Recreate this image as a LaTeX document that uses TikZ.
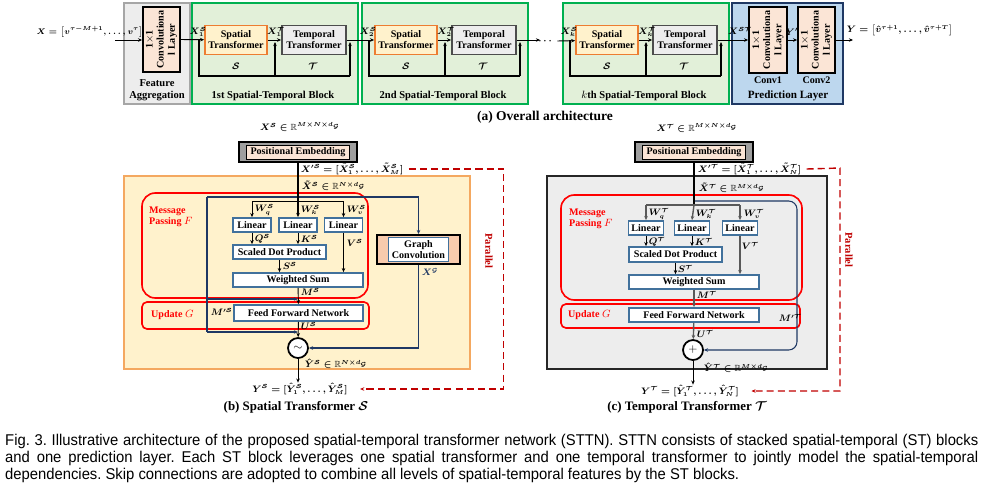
\documentclass[tikz,border=0pt]{standalone}
\usepackage{amsmath}
\usepackage{amssymb}
\usepackage{fontspec}
\setmainfont{Liberation Serif}
\newfontfamily\capfont[FakeStretch=0.95]{Liberation Sans}
\usetikzlibrary{arrows.meta}

\definecolor{peach}{HTML}{FBE5D6}
\definecolor{peachdk}{HTML}{F8CBAD}
\definecolor{blkgreen}{HTML}{E2F0D9}
\definecolor{blkline}{HTML}{00B050}
\definecolor{predfill}{HTML}{BDD7EE}
\definecolor{navy}{HTML}{1F3864}
\definecolor{lightyel}{HTML}{FFF2CC}
\definecolor{orgline}{HTML}{ED7D31}
\definecolor{orgpale}{HTML}{F4A860}
\definecolor{steel}{HTML}{41719C}
\definecolor{parred}{HTML}{C00000}
\definecolor{greyfill}{HTML}{EDEDED}

\tikzset{
  sz/.style 2 args={minimum width=#1*0.03cm, minimum height=#2*0.03cm, inner sep=0pt},
  txt/.style={font=\fontsize{8.6}{9.4}\selectfont\bfseries, align=center},
  lb/.style={font=\fontsize{7.6}{8}\selectfont\boldmath, inner sep=0.5pt},
  arr/.style={-{Stealth[length=3.5pt,width=3pt]}},
  flow/.style={line width=0.8pt},
  skipln/.style={line width=1.3pt},
  navyln/.style={draw=navy, line width=0.9pt},
  convbox/.style={txt, draw=black, line width=1.5pt, fill=peach, rotate=90},
  spbox/.style={txt, draw=orgline, line width=1.5pt, fill=lightyel},
  tpbox/.style={txt, draw=gray!60!black, line width=1.5pt, fill=greyfill},
  linbox/.style={txt, draw=steel, line width=1.5pt, fill=white},
  pebox/.style={draw=black, line width=1.6pt, fill=gray!75},
  peinner/.style={txt, draw=black, line width=0.4pt, fill=peach},
  redbox/.style={draw=red, line width=1.4pt, rounded corners=0.4cm},
  redtxt/.style={txt, text=red, align=left},
  pardash/.style={draw=parred, line width=1.2pt, dash pattern=on 6pt off 3.5pt},
  subcap/.style={font=\fontsize{11}{12}\selectfont\bfseries},
  capline/.style={anchor=base west, inner sep=0pt, font=\capfont\fontsize{13.3}{14.5}\selectfont\frenchspacing},
}

\begin{document}
\begin{tikzpicture}[x=0.03cm, y=-0.03cm]
\useasboundingbox (0,0) rectangle (983,495);

% (a) overall architecture
\node[sz={66}{101}, draw=gray!70, line width=1.4pt, fill=greyfill] (fa) at (157,53.5) {};
\node[convbox, sz={65}{37}] (conv0) at (161.5,39.5) {1$\times$1\\Convolutiona\\l Layer};
\node[txt, font=\fontsize{9}{10.5}\selectfont\bfseries] (falab) at (157,90.5) {Feature\\Aggregation};
\node[lb, font=\fontsize{7.4}{8}\selectfont\boldmath] (xin) at (90,32) {$X=\bigl[v^{\tau-M+1},\ldots,v^{\tau}\bigr]$};
\coordinate (in0) at (115,40);
\draw[flow,arr] (in0) -- (in0 -| conv0.north);

\foreach \bx/\n/\nth in {192/1/1st, 362/2/2nd, 563/k/{$k$th}} {
  \node[sz={166}{101}, draw=blkline, line width=1.4pt, fill=blkgreen] (blk\n) at (\bx+83,53.5) {};
  \node[spbox, sz={62}{29}] (sp\n) at (\bx+44,40) {Spatial\\Transformer};
  \node[tpbox, sz={64}{29}] (tp\n) at (\bx+122,40) {Temporal\\Transformer};
  \draw[flow,arr] (sp\n) -- (tp\n);
  \draw[skipln] (\bx+7,40) -- (\bx+7,76) -- (\bx+158,76);
  \draw[skipln,arr] (\bx+158,76) -- (\bx+158,42);
  \draw[skipln,arr] (\bx+83,76) -- (\bx+83,42);
  \node[lb] at (\bx+6,32) {$X_{\n}^{\mathcal{S}}$};
  \node[lb] at (\bx+84,32) {$X_{\n}^{\mathcal{T}}$};
  \node[lb] at (\bx+44,66) {$\mathcal{S}$};
  \node[lb] at (\bx+121,66) {$\mathcal{T}$};
  \node[txt, font=\fontsize{9}{10}\selectfont\bfseries] at (\bx+81,96) {\nth{} Spatial-Temporal Block};
}

\node[sz={111}{101}, draw=navy, line width=1.4pt, fill=predfill] (pl) at (787.5,53.5) {};
\node[convbox, sz={66}{38}] (cv1) at (768,40) {1$\times$1\\Convolutiona\\l Layer};
\node[convbox, sz={66}{37}] (cv2) at (816.5,40) {1$\times$1\\Convolutiona\\l Layer};
\node[txt] at (768,80) {Conv1};
\node[txt] at (816.5,80) {Conv2};
\node[txt, font=\fontsize{9.5}{10}\selectfont\bfseries] at (788,96) {Prediction Layer};
\node[lb] at (740,31) {$X^{\mathcal{ST}}$};
\node[lb] at (792,32) {$Y'$};
\node[lb, anchor=west] (yout) at (846,30) {$Y=\bigl[\hat{v}^{\tau+1},\ldots,\hat{v}^{\tau+T}\bigr]$};
\coordinate (yend) at (853,40);

% connections between blocks
\draw[flow,arr] (conv0.south) -- (sp1);
\draw[flow,arr] (tp1) -- (sp2);
\coordinate (dots0) at (540,40);
\draw[flow,arr] (tp2) -- (dots0);
\node[lb] (dots) at (546,41) {$\cdots$};
\draw[flow,arr] (dots.east) ++(3,0) -- (spk);
\draw[flow,arr] (tpk) -- (cv1.north);
\draw[flow,arr] (cv1.south) -- (cv2.north);
\draw[flow,arr] (cv2.south) -- (yend);
\node[subcap, font=\fontsize{11.5}{12}\selectfont\bfseries] at (545,117) {(a) Overall architecture};

% (b) spatial transformer
\node[sz={346}{193}, draw=orgpale, line width=1.3pt, fill=lightyel] (spS) at (297,272.5) {};
\node[redbox, sz={226}{105}] (mpS) at (255,245.5) {};
\node[redbox, sz={227}{27}, rounded corners=0.15cm] (upS) at (255.5,315.5) {};
\node[redtxt, anchor=north west] at (145,203) {Message\\Passing $F$};
\node[redtxt, anchor=west] at (147,315) {Update $G$};
\node[lb] (xsS) at (300,127) {$X^{\mathcal{S}}\in\mathbb{R}^{M\times N\times d_{\mathcal{G}}}$};
\node[pebox, sz={118}{20}] (peS) at (298,152) {};
\node[peinner, sz={103}{14}] (peSi) at (298,152) {Positional Embedding};
\node[linbox, sz={38}{14}] (lqS) at (252,225) {Linear};
\node[linbox, sz={38}{14}] (lkS) at (298,225) {Linear};
\node[linbox, sz={38}{14}] (lvS) at (343.5,225) {Linear};
\node[linbox, sz={93}{14}] (sdpS) at (279.5,252) {Scaled Dot Product};
\node[linbox, sz={130}{14}] (wsS) at (298,280) {Weighted Sum};
\node[linbox, sz={129}{16}] (ffS) at (298.5,313) {Feed Forward Network};
\node[draw=black, line width=1.5pt, fill=white, circle, minimum size=20*0.03cm, inner sep=0pt, font=\bfseries] (cS) at (298,348) {$\sim$};
\node[sz={83}{29}, draw=black, line width=1.6pt, fill=peachdk] (gcS) at (418.5,249.5) {};
\node[linbox, sz={60}{24}, line width=1.2pt] (gcSi) at (418.5,249.5) {Graph\\Convolution};
\node[lb, anchor=west] (xpS) at (300,169) {$X'^{\mathcal{S}}=[\tilde{X}_1^{\mathcal{S}},\ldots,\tilde{X}_M^{\mathcal{S}}]$};
\node[lb, anchor=west] at (301,186) {$\tilde{X}^{\mathcal{S}}\in\mathbb{R}^{N\times d_{\mathcal{G}}}$};
\node[lb] (ysS) at (300,389) {$Y^{\mathcal{S}}=[\hat{Y}_1^{\mathcal{S}},\ldots,\hat{Y}_M^{\mathcal{S}}]$};
\node[subcap] at (296,407) {(b) Spatial Transformer $\boldsymbol{\mathcal{S}}$};
\node[txt, text=parred, rotate=-90, font=\fontsize{9}{10}\selectfont\bfseries] at (489,251) {Parallel};
% edges
\coordinate (jS) at (298,201);
\coordinate (nvS) at (207,197);
\draw[navyln,arr] (nvS) -| (gcS.north);
\draw[navyln] (nvS) -- (207,332);
\draw[navyln,arr] (207,299) -- (298,299);
\draw[navyln,arr] (207,332) -- (298,332);
\draw[navyln,arr] (gcS.south) |- (cS.east);
\draw[line width=1pt,arr] (peS.south) -- (lkS.north);
\draw[flow] (lqS.north |- jS) -- (lvS.north |- jS);
\draw[flow,arr] (lqS.north |- jS) -- (lqS.north);
\draw[flow,arr] (lvS.north |- jS) -- (lvS.north);
\draw[flow,arr] (lqS.south) -- (lqS.south |- sdpS.north);
\draw[flow,arr] (lkS.south) -- (lkS.south |- sdpS.north);
\draw[flow,arr] (lvS.south) -- (lvS.south |- wsS.north);
\draw[flow,arr] (sdpS.south) -- (sdpS.south |- wsS.north);
\draw[flow,arr] (wsS) -- (ffS);
\draw[flow,arr] (ffS) -- (cS);
\draw[flow,arr] (cS) -- (ysS.north -| cS.south);
\draw[pardash,arr] ([xshift=4pt]xpS.east) -- ++(95,0) |- ([xshift=10pt]ysS.east);
\node[lb, anchor=west] at (254,210) {$W_q^{\mathcal{S}}$};
\node[lb, anchor=west] at (300,210) {$W_k^{\mathcal{S}}$};
\node[lb, anchor=west] at (346,210) {$W_v^{\mathcal{S}}$};
\node[lb, anchor=west] at (254,239) {$Q^{\mathcal{S}}$};
\node[lb, anchor=west] at (300,239) {$K^{\mathcal{S}}$};
\node[lb, anchor=west] at (346,243) {$V^{\mathcal{S}}$};
\node[lb, anchor=west] at (282,266) {$S^{\mathcal{S}}$};
\node[lb, anchor=west] at (300,292) {$M^{\mathcal{S}}$};
\node[lb, anchor=west] at (210,312) {$M'^{\mathcal{S}}$};
\node[lb, anchor=west] at (300,326) {$U^{\mathcal{S}}$};
\node[lb, anchor=west, text=navy] at (421,272) {$X^{\mathcal{G}}$};
\node[lb, anchor=west] at (304,364) {$\hat{Y}^{\mathcal{S}}\in\mathbb{R}^{N\times d_{\mathcal{G}}}$};

% (c) temporal transformer
\node[sz={280}{193}, draw=gray!30!black, line width=1.5pt, fill=greyfill] (tpT) at (687,272.5) {};
\node[redbox, sz={241}{105}] (mpT) at (681.5,247.5) {};
\node[redbox, sz={239}{24}, rounded corners=0.15cm] (upT) at (680.5,316) {};
\node[redtxt, anchor=north west] at (565,205) {Message\\Passing $F$};
\node[redtxt, anchor=west] at (564,315) {Update $G$};
\node[lb] (xsT) at (697,128) {$X^{\mathcal{T}}\in\mathbb{R}^{M\times N\times d_{\mathcal{G}}}$};
\node[pebox, sz={118}{20}] (peT) at (694,152) {};
\node[peinner, sz={103}{14}] (peTi) at (694,152) {Positional Embedding};
\node[linbox, sz={35}{14}] (lqT) at (646,228) {Linear};
\node[linbox, sz={35}{14}] (lkT) at (692,228) {Linear};
\node[linbox, sz={35}{14}] (lvT) at (740,228) {Linear};
\node[linbox, sz={93}{15}] (sdpT) at (675.5,254.5) {Scaled Dot Product};
\node[linbox, sz={130}{14}] (wsT) at (694,282) {Weighted Sum};
\node[linbox, sz={130}{14}] (ffT) at (694,315) {Feed Forward Network};
\node[draw=black, line width=1.5pt, fill=white, circle, minimum size=20*0.03cm, inner sep=0pt, font=\bfseries] (cT) at (693,350) {$+$};
\node[lb, anchor=west] (xpT) at (697,169) {$X'^{\mathcal{T}}=[\tilde{X}_1^{\mathcal{T}},\ldots,\tilde{X}_N^{\mathcal{T}}]$};
\node[lb, anchor=west] at (698,188) {$\tilde{X}^{\mathcal{T}}\in\mathbb{R}^{M\times d_{\mathcal{G}}}$};
\node[lb] (ysT) at (690,391) {$Y^{\mathcal{T}}=[\hat{Y}_1^{\mathcal{T}},\ldots,\hat{Y}_N^{\mathcal{T}}]$};
\node[subcap] at (687,407) {(c) Temporal Transformer $\boldsymbol{\mathcal{T}}$};
\node[txt, text=parred, rotate=-90, font=\fontsize{9}{10}\selectfont\bfseries] at (849,250) {Parallel};
% edges
\coordinate (jT) at (694,205);
\draw[navyln,arr,rounded corners=0.25cm] (694,201) -- (797,201) -- (797,350) -- (cT.east);
\draw[line width=1.4pt] (peT.south) -- (jT);
\draw[line width=1.2pt, gray!70!black, arr] (jT) -- (lkT.north);
\draw[line width=1.2pt, gray!70!black] (lqT.north |- jT) -- (lvT.north |- jT);
\draw[line width=1.2pt, gray!70!black, arr] (lqT.north |- jT) -- (lqT.north);
\draw[line width=1.2pt, gray!70!black, arr] (lvT.north |- jT) -- (lvT.north);
\draw[flow,arr] (lqT.south) -- (lqT.south |- sdpT.north);
\draw[flow,arr] (lkT.south) -- (lkT.south |- sdpT.north);
\draw[line width=1.2pt, gray!70!black, arr] (lvT.south) -- (lvT.south |- wsT.north);
\draw[flow,arr] (sdpT.south) -- (sdpT.south |- wsT.north);
\draw[line width=1.2pt, gray!70!black, arr] (wsT) -- (ffT);
\draw[line width=1.2pt, gray!70!black, arr] (ffT) -- (cT);
\draw[flow,arr] (cT) -- (ysT.north -| cT.south);
\draw[pardash,arr] ([xshift=4pt]xpT.east) -- (840,168) |- ([xshift=10pt]ysT.east);
\node[lb, anchor=west] at (648,214) {$W_q^{\mathcal{T}}$};
\node[lb, anchor=west] at (695,214) {$W_k^{\mathcal{T}}$};
\node[lb, anchor=west] at (743,214) {$W_v^{\mathcal{T}}$};
\node[lb, anchor=west] at (648,242) {$Q^{\mathcal{T}}$};
\node[lb, anchor=west] at (694,242) {$K^{\mathcal{T}}$};
\node[lb, anchor=west] at (741,246) {$V^{\mathcal{T}}$};
\node[lb, anchor=west] at (677,269) {$S^{\mathcal{T}}$};
\node[lb, anchor=west] at (696,295) {$M^{\mathcal{T}}$};
\node[lb, anchor=west] at (778,318) {$M'^{\mathcal{T}}$};
\node[lb, anchor=west] at (696,334) {$U^{\mathcal{T}}$};
\node[lb, anchor=west] at (703,368) {$\hat{Y}^{\mathcal{T}}\in\mathbb{R}^{M\times d_{\mathcal{G}}}$};

% caption
\node[capline] (cap1) at (5,445) {\makebox[29.19cm][s]{Fig. 3. Illustrative architecture of the proposed spatial-temporal transformer network (STTN). STTN consists of stacked spatial-temporal (ST) blocks}};
\node[capline] (cap2) at (5,462) {\makebox[29.19cm][s]{and one prediction layer. Each ST block leverages one spatial transformer and one temporal transformer to jointly model the spatial-temporal}};
\node[capline] (cap3) at (5,479) {dependencies. Skip connections are adopted to combine all levels of spatial-temporal features by the ST blocks.};
\end{tikzpicture}
\end{document}
